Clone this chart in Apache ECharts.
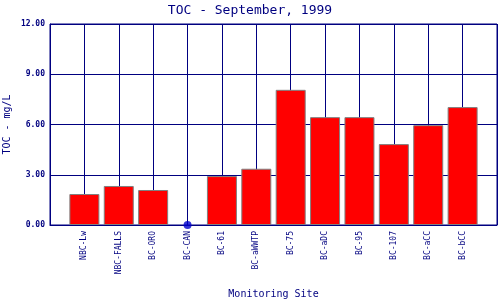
<!DOCTYPE html>
<html><head><meta charset="utf-8">
<script src="https://cdn.jsdelivr.net/npm/echarts@6/dist/echarts.min.js"></script>
<style>html,body{margin:0;padding:0;background:#fff}#c{width:500px;height:300px}</style>
</head><body><div id="c"></div>
<script>
const sites = ['NBC-Lw','NBC-FALLS','BC-ORO','BC-CAN','BC-61','BC-aWWTP','BC-75','BC-aDC','BC-95','BC-107','BC-aCC','BC-bCC'];
const toc = [1.85, 2.33, 2.09, 0, 2.92, 3.36, 8.07, 6.44, 6.44, 4.83, 5.96, 7.04];
const yTicks = [0, 3, 6, 9, 12];

const NAVY = '#000080';
const FONT = 'DejaVu Sans Mono';
const cats = [''].concat(sites, ['']);
const barData = ['-'].concat(toc.map(v => v === 0 ? '-' : v), ['-']);
const dotData = ['-'].concat(toc.map(v => v === 0 ? 0 : '-'), ['-']);

const chart = echarts.init(document.getElementById('c'), null, {renderer: 'canvas'});
chart.setOption({
  animation: false,
  backgroundColor: '#fff',
  title: {text: 'TOC - September, 1999', left: 'center', top: -1,
    textStyle: {fontFamily: FONT, fontSize: 13, fontWeight: 'normal', color: NAVY}},
  grid: {left: 50, right: 3, top: 24, bottom: 75, show: true, borderColor: NAVY, borderWidth: 1,
    containLabel: false, outerBoundsMode: 'none'},
  xAxis: {
    type: 'category', data: cats, boundaryGap: false,
    name: 'Monitoring Site', nameLocation: 'middle', nameGap: 64, nameMoveOverlap: false,
    nameTextStyle: {fontFamily: FONT, fontSize: 10, color: NAVY},
    axisLine: {lineStyle: {color: NAVY, width: 1}},
    axisTick: {show: false},
    axisLabel: {interval: 0, rotate: 90, margin: 6, fontFamily: FONT, fontSize: 8, color: NAVY},
    splitLine: {show: true, interval: 0, lineStyle: {color: NAVY, width: 1}}
  },
  yAxis: {
    type: 'value', min: yTicks[0], max: yTicks[yTicks.length-1], interval: 3,
    name: 'TOC - mg/L', nameLocation: 'middle', nameGap: 38, nameMoveOverlap: false,
    nameTextStyle: {fontFamily: FONT, fontSize: 10, color: NAVY},
    axisLine: {show: true, lineStyle: {color: NAVY, width: 1}},
    axisTick: {show: false},
    axisLabel: {margin: 5, fontFamily: FONT, fontSize: 8, fontWeight: 'bold', color: NAVY,
      formatter: v => v.toFixed(2)},
    splitLine: {show: true, lineStyle: {color: NAVY, width: 1}}
  },
  series: [
    {type: 'bar', data: barData, barWidth: 30,
      itemStyle: {color: '#ff0000', borderColor: '#808080', borderWidth: 1}},
    {type: 'scatter', data: dotData, symbol: 'circle', symbolSize: 8,
      itemStyle: {color: '#0000cc'}, z: 5}
  ]
});
</script></body></html>
